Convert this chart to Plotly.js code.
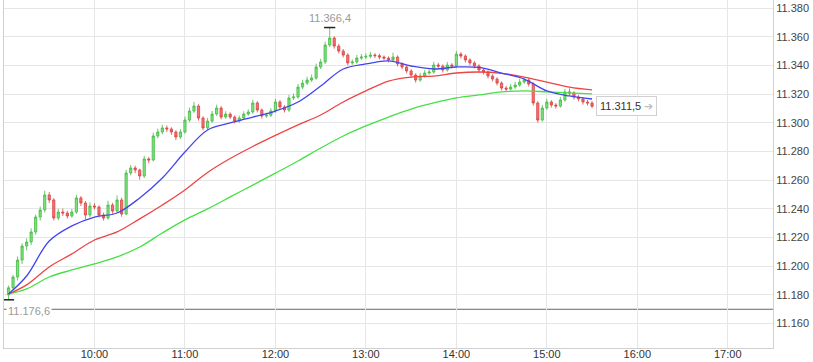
<!DOCTYPE html>
<html>
<head>
<meta charset="utf-8">
<script src="https://cdn.plot.ly/plotly-3.0.1.min.js"></script>
<style>
html,body{margin:0;padding:0;background:#fff;}
#chart{width:813px;height:362px;}
</style>
</head>
<body>
<div id="chart"></div>
<script>
// ---- DATA (DAX-style intraday, 3-minute bars, points) ----
const tradeDay = '2019-03-15';
const firstBar = '09:03';
const barMinutes = 3;
const prevClose = 11170.0;

const opens = [
11180.0,11185.0,11192.5,11204.3,11214.1,11216.9,11223.9,11234.3,11239.2,11249.7,
11246.2,11233.6,11237.8,11237.1,11235.0,11237.8,11247.6,11244.1,11235.7,11242.0,
11241.3,11235.7,11233.6,11242.7,11238.5,11246.2,11236.4,11265.0,11268.5,11267.1,
11262.9,11274.8,11274.1,11290.8,11293.6,11296.4,11295.7,11293.6,11290.1,11293.6,
11301.9,11308.2,11311.7,11303.3,11296.4,11301.2,11306.1,11310.3,11304.0,11306.1,
11304.0,11301.2,11303.3,11306.1,11307.5,11313.8,11308.9,11304.7,11305.3,11308.2,
11314.5,11311.0,11308.9,11317.3,11318.0,11324.9,11327.7,11329.8,11331.2,11338.9,
11342.4,11354.2,11359.1,11353.5,11350.0,11347.2,11341.7,11342.4,11345.1,11345.8,
11346.3,11347.2,11346.8,11345.8,11345.1,11343.8,11345.8,11341.0,11338.9,11336.1,
11333.3,11329.8,11332.6,11334.7,11335.4,11340.3,11339.5,11336.8,11340.3,11339.6,
11347.9,11346.5,11343.8,11341.7,11339.6,11336.8,11335.4,11332.6,11330.5,11327.7,
11324.2,11323.5,11324.9,11326.3,11328.4,11329.8,11327.0,11313.8,11301.9,11310.3,
11314.5,11312.4,11311.7,11315.9,11321.5,11320.8,11318.0,11316.6,11314.5,11313.8];
const highs = [
11186.5,11194.0,11206.8,11216.0,11219.4,11226.5,11236.0,11241.6,11252.6,11251.8,
11247.5,11240.0,11240.2,11238.6,11239.9,11249.8,11248.9,11245.5,11244.6,11243.9,
11242.4,11237.3,11245.7,11244.2,11249.3,11247.8,11267.2,11270.6,11270.1,11268.0,
11276.9,11276.2,11293.1,11296.0,11298.6,11298.1,11296.9,11294.8,11295.6,11304.3,
11310.5,11314.6,11312.9,11304.6,11303.4,11308.3,11312.6,11311.6,11308.0,11307.3,
11305.2,11305.1,11308.0,11309.4,11316.0,11315.1,11310.0,11307.1,11310.2,11316.7,
11315.8,11312.3,11319.5,11320.4,11327.1,11330.0,11332.1,11333.6,11341.2,11344.6,
11356.5,11366.4,11360.3,11355.0,11351.4,11348.5,11344.2,11347.3,11348.0,11348.4,
11349.5,11348.6,11348.1,11347.0,11346.3,11348.9,11347.0,11342.2,11340.1,11337.4,
11334.5,11334.8,11336.9,11337.2,11342.5,11341.8,11340.7,11342.4,11341.6,11350.1,
11349.2,11347.7,11345.0,11343.0,11340.8,11338.0,11336.6,11333.8,11331.7,11328.9,
11325.6,11327.0,11328.5,11330.6,11331.9,11331.1,11328.2,11315.0,11312.5,11316.7,
11315.8,11313.7,11318.1,11323.7,11324.0,11322.0,11319.3,11317.8,11315.9,11315.1];
const lows = [
11176.6,11183.2,11190.1,11201.5,11211.0,11214.8,11222.0,11231.8,11237.5,11244.0,
11231.9,11232.2,11235.0,11233.2,11233.8,11236.5,11242.0,11232.7,11234.1,11239.5,
11234.0,11231.8,11232.4,11236.6,11237.2,11234.5,11235.5,11263.4,11264.9,11260.3,
11261.5,11271.8,11273.0,11289.2,11292.0,11293.5,11291.5,11287.9,11288.8,11292.4,
11300.6,11306.9,11301.5,11294.8,11295.1,11299.9,11304.8,11302.4,11302.8,11302.6,
11299.6,11300.0,11302.1,11304.9,11306.3,11307.2,11302.9,11303.5,11304.1,11307.0,
11309.4,11307.2,11307.6,11315.9,11316.8,11323.5,11326.4,11328.5,11330.0,11337.5,
11341.0,11352.8,11351.7,11348.3,11345.6,11340.0,11340.4,11341.1,11343.9,11344.5,
11345.0,11345.2,11344.2,11343.6,11342.1,11342.6,11339.3,11337.2,11334.4,11331.5,
11328.0,11328.6,11331.4,11333.5,11334.2,11337.9,11335.0,11335.6,11337.9,11338.4,
11344.8,11342.0,11340.0,11337.9,11335.1,11333.7,11330.9,11328.8,11326.0,11322.5,
11321.8,11322.4,11323.7,11325.1,11327.2,11325.3,11312.0,11300.1,11300.8,11309.0,
11310.6,11309.9,11310.5,11314.7,11319.0,11316.2,11314.9,11312.7,11312.0,11310.2];
const closes = [
11185.0,11192.5,11204.3,11214.1,11216.9,11223.9,11234.3,11239.2,11249.7,11246.2,
11233.6,11237.8,11237.1,11235.0,11237.8,11247.6,11244.1,11235.7,11242.0,11241.3,
11235.7,11233.6,11242.7,11238.5,11246.2,11236.4,11265.0,11268.5,11267.1,11262.9,
11274.8,11274.1,11290.8,11293.6,11296.4,11295.7,11293.6,11290.1,11293.6,11301.9,
11308.2,11311.7,11303.3,11296.4,11301.2,11306.1,11310.3,11304.0,11306.1,11304.0,
11301.2,11303.3,11306.1,11307.5,11313.8,11308.9,11304.7,11305.3,11308.2,11314.5,
11311.0,11308.9,11317.3,11318.0,11324.9,11327.7,11329.8,11331.2,11338.9,11342.4,
11354.2,11359.1,11353.5,11350.0,11347.2,11341.7,11342.4,11345.1,11345.8,11346.3,
11347.2,11346.8,11345.8,11345.1,11343.8,11345.8,11341.0,11338.9,11336.1,11333.3,
11329.8,11332.6,11334.7,11335.4,11340.3,11339.5,11336.8,11340.3,11339.6,11347.9,
11346.5,11343.8,11341.7,11339.6,11336.8,11335.4,11332.6,11330.5,11327.7,11324.2,
11323.5,11324.9,11326.3,11328.4,11329.8,11327.0,11313.8,11301.9,11310.3,11314.5,
11312.4,11311.7,11315.9,11321.5,11320.8,11318.0,11316.6,11314.5,11313.8,11311.5];

// moving averages
const maTimes = ['09:03','09:15','09:30','09:45','10:00','10:15','10:30','10:45','11:00',
  '11:15','11:30','11:45','12:00','12:15','12:30','12:45','13:00','13:15','13:30','13:45',
  '14:00','14:15','14:30','14:45','15:00','15:15','15:30'];
const maFast = [11180.7,11193.2,11217.6,11228.1,11234.3,11237.1,11247.6,11261.5,11279.6,
  11295.0,11299.9,11304.0,11308.2,11314.5,11325.6,11337.5,11341.0,11343.1,11339.6,11337.5,
  11338.9,11338.6,11334.7,11330.5,11322.2,11318.7,11316.6];
const maMid = [11180.7,11187.0,11199.5,11208.6,11218.3,11223.9,11233.0,11242.7,11253.2,
  11265.4,11275.1,11283.5,11291.2,11298.5,11305.4,11314.5,11322.2,11329.1,11331.9,11332.6,
  11334.7,11335.4,11334.5,11331.9,11328.4,11324.9,11322.9];
const maSlow = [11180.7,11184.2,11192.5,11197.4,11201.6,11206.5,11213.4,11223.2,11232.3,
  11240.0,11248.3,11256.6,11264.9,11273.4,11282.4,11290.8,11297.8,11304.0,11309.6,11313.8,
  11317.3,11319.4,11321.5,11322.2,11321.6,11320.8,11320.1];

const xTickLabels = ['10:00','11:00','12:00','13:00','14:00','15:00','16:00','17:00'];

// ---- helpers ----
function pad(n){return (n<10?'0':'')+n;}
const [fh,fm] = firstBar.split(':').map(Number);
const times = closes.map((_,i)=>{
  const m = fh*60+fm+i*barMinutes;
  return tradeDay+' '+pad(Math.floor(m/60))+':'+pad(m%60);
});
const maX = maTimes.map(t=>tradeDay+' '+t);
function fmtDE(v,dec){
  const s = v.toFixed(dec).split('.');
  const int = s[0].replace(/\B(?=(\d{3})+(?!\d))/g,'.');
  return dec>0 ? int+','+s[1] : int;
}
const hiIdx = highs.indexOf(Math.max(...highs));
const loIdx = lows.indexOf(Math.min(...lows));
const last = closes.length-1;

const traces = [
  {type:'scatter',mode:'lines',x:maX,y:maSlow,line:{color:'#44e044',width:1.3,shape:'spline',smoothing:1},hoverinfo:'skip'},
  {type:'scatter',mode:'lines',x:maX,y:maMid,line:{color:'#ee4444',width:1.3,shape:'spline',smoothing:1},hoverinfo:'skip'},
  {type:'scatter',mode:'lines',x:maX,y:maFast,line:{color:'#4444ee',width:1.3,shape:'spline',smoothing:1},hoverinfo:'skip'},
  {type:'candlestick',x:times,open:opens,high:highs,low:lows,close:closes,
   increasing:{line:{color:'#44bb44',width:0.8},fillcolor:'#7ee07e'},
   decreasing:{line:{color:'#dd4444',width:0.8},fillcolor:'#f07272'},
   whiskerwidth:0,hoverinfo:'skip'},
  {type:'scatter',mode:'markers',x:[times[hiIdx],times[loIdx]],y:[highs[hiIdx],lows[loIdx]],
   marker:{symbol:'line-ew',size:8,line:{color:'#222',width:1.5}},hoverinfo:'skip'}
];

const layout = {
  width:813,height:362,
  margin:{l:4,r:40,t:0,b:14},
  paper_bgcolor:'#fff',plot_bgcolor:'#fff',
  showlegend:false,
  separators:',.',
  font:{family:'"Liberation Sans", Arial, sans-serif',size:11,color:'#333'},
  xaxis:{type:'date',range:[tradeDay+' 09:00',tradeDay+' 17:30'],
    tickmode:'array',tickvals:xTickLabels.map(t=>tradeDay+' '+t),ticktext:xTickLabels,
    showgrid:true,gridcolor:'#e6e6e6',gridwidth:1,
    showline:true,linecolor:'#d0d0d0',linewidth:1,ticks:'',ticklabelstandoff:-4,
    zeroline:false,rangeslider:{visible:false},automargin:false,
    tickfont:{size:11,color:'#333'},fixedrange:true},
  yaxis:{side:'right',range:[11143.0,11385.6],dtick:20,tick0:11160,tickformat:',.0f',
    showgrid:true,gridcolor:'#e6e6e6',gridwidth:1,
    showline:true,mirror:true,linecolor:'#d0d0d0',linewidth:1,ticks:'',
    zeroline:false,automargin:false,tickfont:{size:11,color:'#444'},fixedrange:true},
  shapes:[
    {type:'line',xref:'paper',x0:0,x1:1,yref:'y',y0:prevClose,y1:prevClose,
     line:{color:'#666',width:1},layer:'below'}
  ],
  annotations:[
    {x:times[hiIdx],y:highs[hiIdx],text:fmtDE(highs[hiIdx],1),showarrow:false,
     yanchor:'bottom',yshift:2,font:{size:11,color:'#999'}},
    {x:times[loIdx],y:lows[loIdx],text:fmtDE(lows[loIdx],1),showarrow:false,
     xanchor:'left',yanchor:'top',xshift:-3,yshift:-3,bgcolor:'#fff',
     font:{size:11,color:'#999'}},
    {x:times[last],y:closes[last],text:fmtDE(closes[last],1)+' <span style="color:#c0c0c0">➔</span>',
     showarrow:false,xanchor:'left',yanchor:'middle',xshift:4,
     bgcolor:'#fff',bordercolor:'#d0d0d0',borderwidth:1,borderpad:3,
     font:{size:11,color:'#333'}}
  ]
};

Plotly.newPlot('chart',traces,layout,{staticPlot:true,displayModeBar:false});
</script>
</body>
</html>
